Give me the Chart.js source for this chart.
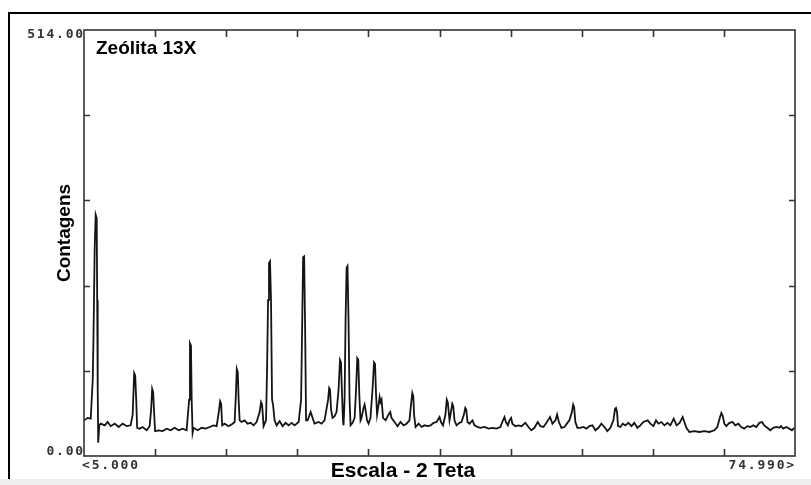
<!DOCTYPE html>
<html>
<head>
<meta charset="utf-8">
<script src="https://cdn.jsdelivr.net/npm/chart.js"></script>
<style>
  body { margin: 0; background: #fff; }
  #wrap { width: 811px; height: 485px; }
</style>
</head>
<body>
<div id="wrap"><canvas id="xrd" width="811" height="485"></canvas></div>
<script>
// difratograma - Zeolita 13X
const chartTitle = 'Zeólita 13X'
const xTitle = 'Escala - 2 Teta'
const yTitle = 'Contagens'

const xMin = 5.0
const xMax = 74.99
const yMin = 0
const yMax = 514

const xTicks = [12, 19, 26, 33, 40, 47, 54, 61, 68]
const yTicks = [102.8, 205.6, 308.4, 411.2]
const xTickLabels = ['<5.000', '74.990>']
const yTickLabels = ['0.00', '514.00']

const twoTheta = [
  5.02, 5.36, 5.66, 5.86, 5.93, 6.05, 6.15, 6.25, 6.30, 6.35, 6.40, 6.50, 6.64, 7.04, 7.33, 7.63,
  8.02, 8.41, 8.81, 9.20, 9.59, 9.79, 9.94, 10.04, 10.14, 10.23, 10.48, 10.77, 11.17, 11.46, 11.61,
  11.71, 11.81, 11.91, 12.00, 12.35, 12.74, 13.14, 13.53, 13.92, 14.32, 14.71, 15.10, 15.35, 15.43,
  15.53, 15.60, 15.69, 15.79, 16.19, 16.58, 16.97, 17.37, 17.76, 18.06, 18.30, 18.40, 18.50, 18.60,
  18.84, 19.23, 19.63, 19.83, 19.95, 20.04, 20.14, 20.22, 20.32, 20.51, 20.81, 21.10, 21.40, 21.69,
  21.99, 22.29, 22.43, 22.53, 22.68, 22.92, 23.02, 23.12, 23.21, 23.31, 23.41, 23.51, 23.61, 23.76,
  23.96, 24.26, 24.55, 24.85, 25.14, 25.44, 25.73, 26.13, 26.37, 26.47, 26.57, 26.67, 26.77, 26.86,
  27.01, 27.31, 27.50, 27.70, 28.10, 28.38, 28.68, 29.03, 29.13, 29.22, 29.32, 29.47, 29.67, 29.86,
  30.06, 30.20, 30.30, 30.40, 30.50, 30.55, 30.65, 30.75, 30.85, 30.94, 31.04, 31.14, 31.24, 31.44,
  31.64, 31.78, 31.90, 32.00, 32.10, 32.22, 32.32, 32.52, 32.62, 32.71, 32.86, 33.01, 33.20, 33.40,
  33.55, 33.65, 33.75, 33.85, 34.00, 34.10, 34.19, 34.29, 34.44, 34.69, 34.98, 35.15, 35.27, 35.57,
  35.86, 36.16, 36.45, 36.75, 37.04, 37.19, 37.32, 37.42, 37.49, 37.64, 37.94, 38.23, 38.53, 38.82,
  39.12, 39.41, 39.71, 39.90, 40.00, 40.14, 40.34, 40.58, 40.71, 40.81, 40.98, 41.08, 41.25, 41.35,
  41.47, 41.67, 41.96, 42.16, 42.40, 42.53, 42.63, 42.75, 42.95, 43.24, 43.44, 43.73, 44.03, 44.42,
  44.81, 45.21, 45.60, 45.99, 46.24, 46.39, 46.53, 46.73, 46.88, 47.05, 47.17, 47.47, 47.76, 48.06,
  48.45, 48.75, 49.04, 49.34, 49.67, 49.93, 50.23, 50.52, 50.88, 51.11, 51.41, 51.57, 51.75, 52.00,
  52.29, 52.59, 52.78, 53.03, 53.15, 53.25, 53.37, 53.57, 53.86, 54.16, 54.46, 54.75, 55.05, 55.34,
  55.64, 55.93, 56.23, 56.52, 56.82, 57.11, 57.28, 57.37, 57.47, 57.57, 57.80, 58.03, 58.29, 58.59,
  58.89, 59.17, 59.47, 59.77, 60.06, 60.49, 60.75, 61.05, 61.31, 61.54, 61.84, 62.13, 62.43, 62.72,
  63.05, 63.33, 63.63, 63.93, 64.10, 64.30, 64.59, 65.08, 65.57, 66.06, 66.56, 67.05, 67.34, 67.59,
  67.74, 67.89, 68.03, 68.23, 68.53, 68.85, 69.11, 69.41, 69.70, 70.00, 70.29, 70.59, 70.88, 71.18,
  71.48, 71.74, 71.96, 72.26, 72.56, 72.85, 73.15, 73.44, 73.61, 73.83, 74.13, 74.43, 74.69, 74.92
]

const counts = [
  43, 46, 45, 92, 140, 249, 291, 287, 188, 80, 16, 37, 39, 37, 41, 36,
  39, 35, 39, 36, 37, 50, 100, 97, 68, 34, 33, 35, 31, 36, 56,
  81, 77, 50, 30, 31, 30, 33, 31, 34, 31, 33, 31, 68, 136,
  133, 68, 28, 34, 31, 34, 33, 35, 37, 36, 56, 66, 63, 37,
  39, 36, 39, 41, 74, 105, 101, 68, 43, 41, 43, 39, 40, 37,
  41, 53, 65, 62, 36, 43, 104, 188, 233, 235, 188, 68, 62, 43,
  37, 42, 36, 40, 37, 40, 37, 41, 68, 152, 240, 241, 152, 43,
  43, 53, 46, 39, 41, 39, 43, 68, 82, 80, 56, 46, 48, 53,
  80, 116, 113, 74, 41, 37, 68, 164, 227, 229, 164, 68, 37, 40,
  46, 80, 118, 116, 74, 43, 46, 58, 62, 56, 43, 39, 46, 80,
  113, 111, 74, 50, 62, 71, 65, 68, 46, 43, 50, 53, 46, 41,
  36, 41, 37, 39, 43, 62, 76, 72, 50, 35, 39, 35, 37, 36,
  37, 40, 41, 45, 47, 41, 37, 50, 68, 65, 43, 50, 63, 60,
  43, 37, 40, 41, 50, 58, 56, 41, 39, 43, 37, 35, 34, 35,
  33, 34, 33, 35, 43, 47, 41, 37, 43, 46, 39, 36, 37, 36,
  40, 35, 31, 34, 41, 36, 35, 40, 47, 39, 43, 50, 41, 34,
  35, 40, 43, 53, 62, 59, 41, 34, 34, 35, 33, 36, 37, 31,
  34, 39, 35, 30, 34, 43, 57, 58, 53, 36, 35, 39, 37, 40,
  36, 40, 34, 37, 41, 43, 39, 36, 43, 39, 41, 37, 40, 37,
  45, 37, 40, 47, 41, 34, 29, 30, 29, 30, 29, 31, 35, 46,
  52, 48, 39, 36, 40, 41, 37, 39, 35, 33, 36, 35, 37, 35,
  40, 41, 37, 34, 31, 34, 35, 34, 36, 33, 35, 33, 31, 34
]

const monoFont = 'bold 13px "DejaVu Sans Mono", monospace'
const titleFont = 'bold 19px "Liberation Sans", Arial, sans-serif'
const axisFont = 'bold 21px "Liberation Sans", Arial, sans-serif'

// moldura, eixos com marcas para dentro, textos
const framePlugin = {
  id: 'frame',
  beforeDraw(chart) {
    const c = chart.ctx
    c.save()
    c.fillStyle = '#ffffff'
    c.fillRect(0, 0, chart.width, chart.height)
    c.fillStyle = '#eeeeee'
    c.fillRect(0, 479, chart.width, chart.height - 479)
    c.strokeStyle = '#000'
    c.lineWidth = 2
    c.beginPath()
    c.moveTo(9, 479)
    c.lineTo(9, 13)
    c.lineTo(chart.width, 13)
    c.stroke()
    c.restore()
  },
  afterDraw(chart) {
    const c = chart.ctx
    const a = chart.chartArea
    const xs = chart.scales.x
    const ys = chart.scales.y
    c.save()
    c.strokeStyle = '#333'
    c.lineWidth = 1.6
    c.strokeRect(a.left, a.top, a.right - a.left, a.bottom - a.top)

    c.beginPath()
    xTicks.forEach(v => {
      const px = Math.round(xs.getPixelForValue(v)) + 0.5
      c.moveTo(px, a.bottom); c.lineTo(px, a.bottom - 7)
      c.moveTo(px, a.top); c.lineTo(px, a.top + 7)
    })
    yTicks.forEach(v => {
      const py = Math.round(ys.getPixelForValue(v)) + 0.5
      c.moveTo(a.left, py); c.lineTo(a.left + 6, py)
      c.moveTo(a.right, py); c.lineTo(a.right - 6, py)
    })
    c.stroke()

    c.fillStyle = '#333'
    c.font = monoFont
    c.letterSpacing = '1.8px'
    c.textBaseline = 'middle'
    c.textAlign = 'right'
    c.fillText(yTickLabels[1], a.left + 1, ys.getPixelForValue(yMax) + 5)
    c.fillText(yTickLabels[0], a.left + 1, ys.getPixelForValue(yMin) - 4)
    c.textAlign = 'left'
    c.fillText(xTickLabels[0], xs.getPixelForValue(xMin) - 2, a.bottom + 10)
    c.textAlign = 'right'
    c.fillText(xTickLabels[1], xs.getPixelForValue(xMax) + 1, a.bottom + 10)
    c.letterSpacing = '0px'

    c.fillStyle = '#000'
    c.font = titleFont
    c.textAlign = 'left'
    c.fillText(chartTitle, a.left + 12, a.top + 19)
    c.font = axisFont
    c.textAlign = 'center'
    c.fillText(xTitle, 403, a.bottom + 15)
    c.font = titleFont
    c.translate(65, 233)
    c.rotate(-Math.PI / 2)
    c.fillText(yTitle, 0, 0)
    c.restore()
  }
}

const ctx = document.getElementById('xrd')
new Chart(ctx, {
  type: 'line',
  data: {
    datasets: [{
      data: twoTheta.map((t, i) => ({ x: t, y: counts[i] })),
      borderColor: '#141414',
      borderWidth: 1.8,
      pointRadius: 0,
      tension: 0,
      fill: false
    }]
  },
  options: {
    responsive: false,
    animation: false,
    layout: { padding: { left: 84, top: 30, right: 16, bottom: 29 } },
    plugins: {
      legend: { display: false },
      tooltip: { enabled: false }
    },
    scales: {
      x: { type: 'linear', min: xMin, max: xMax, display: false },
      y: { type: 'linear', min: yMin, max: yMax, display: false }
    }
  },
  plugins: [framePlugin]
})
</script>
</body>
</html>
